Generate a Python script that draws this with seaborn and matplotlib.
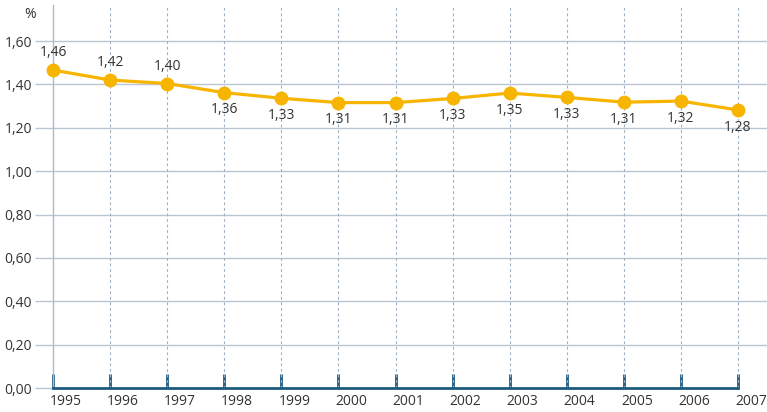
import seaborn as sns
import pandas as pd
import numpy as np
import matplotlib.pyplot as plt
import matplotlib.transforms as mtransforms

years = [1995, 1996, 1997, 1998, 1999, 2000, 2001, 2002, 2003, 2004, 2005, 2006, 2007]
values = [1.466, 1.420, 1.404, 1.362, 1.336, 1.316, 1.316, 1.335, 1.360, 1.340, 1.318, 1.323, 1.282]
labels = ["1,46", "1,42", "1,40", "1,36", "1,33", "1,31", "1,31", "1,33", "1,35", "1,33", "1,31", "1,32", "1,28"]
above = [True, True, True] + [False] * 10
yticks = [0.0, 0.2, 0.4, 0.6, 0.8, 1.0, 1.2, 1.4, 1.6]

sns.set_style("white")
plt.rcParams['font.family'] = ['Open Sans', 'DejaVu Sans']
text_col = "#333333"
grid_col = "#b9c6d2"
axis_col = "#1d5a80"
line_col = "#f7b500"

df = pd.DataFrame({"year": years, "value": values})

fig = plt.figure(figsize=(7.67, 4.12), dpi=100)
ax = fig.add_axes([53 / 767, 24 / 412, (767 - 53) / 767, (388 - 5) / 412])

sns.lineplot(data=df, x="year", y="value", ax=ax, color=line_col, linewidth=2.3,
             marker="o", markersize=10, markeredgewidth=0, zorder=5, clip_on=False)

for x, y, t, up in zip(years, values, labels, above):
    ax.annotate(t, (x, y), xytext=(0, 12.5 if up else -12.5), textcoords="offset points",
                ha="center", va="center", fontsize=10, color=text_col, zorder=6)

ax.set_xlim(1995, 1995 + (767 - 53) / ((738 - 53) / 12))
ax.set_ylim(0, 1.766)
ax.set_xticks(years)
ax.set_xticklabels([str(y) for y in years])
ax.set_yticks(yticks)
ax.set_yticklabels([f"{v:.2f}".replace(".", ",") for v in yticks])

for v in yticks[1:]:
    ax.axhline(v, color=grid_col, linewidth=1, zorder=1)
for x in years[1:]:
    ax.axvline(x, color="#9fb0c0", linewidth=0.8, linestyle=(0, (2.5, 2.5)), zorder=1)

for s in ["top", "right"]:
    ax.spines[s].set_visible(False)
ax.spines["left"].set_color("#a9bccb")
ax.spines["left"].set_linewidth(1)
ax.spines["bottom"].set_color(axis_col)
ax.spines["bottom"].set_linewidth(2)
ax.spines["bottom"].set_bounds(1995, 2007)

ax.tick_params(axis="x", bottom=True, direction="in", length=10, width=2, color=axis_col,
               labelsize=10, labelcolor=text_col, pad=4)
ax.tick_params(axis="y", left=True, direction="out", length=13, width=1, color=grid_col,
               labelsize=10, labelcolor=text_col, pad=2)

offset = mtransforms.ScaledTranslation(13 / 100, 0, fig.dpi_scale_trans)
for lab in ax.get_xticklabels():
    lab.set_transform(lab.get_transform() + offset)

ax.set_xlabel("")
ax.set_ylabel("")
fig.text(30 / 767, 1 - 15 / 412, "%", ha="center", va="center", fontsize=10, color=text_col)

fig.savefig("out.png", dpi=100)
